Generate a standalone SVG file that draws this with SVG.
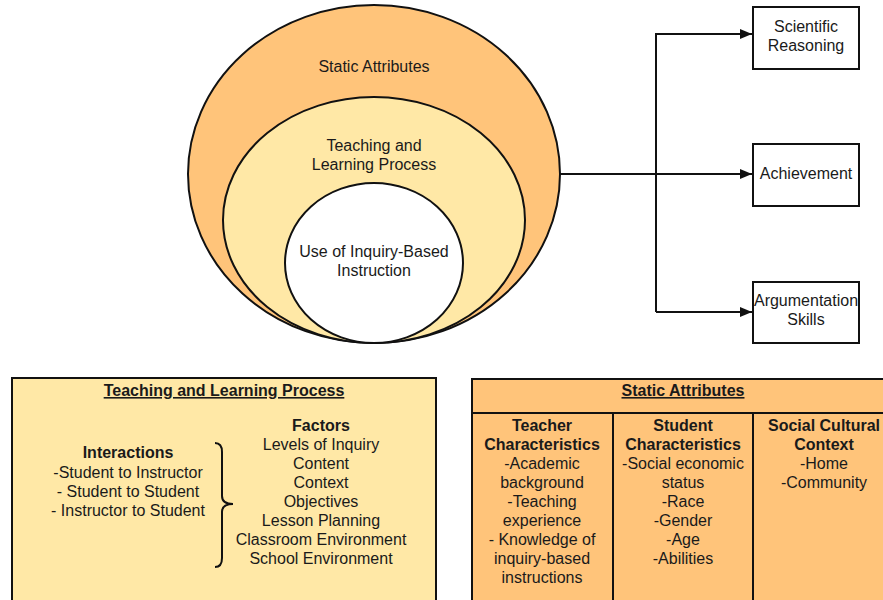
<svg xmlns="http://www.w3.org/2000/svg" width="883" height="600" viewBox="0 0 883 600">
  <style>
    text { font-family: "Liberation Sans", Arial, sans-serif; font-size: 16px; fill: #1a1a1a; text-anchor: middle; }
    .b { font-weight: bold; }
    .u { font-weight: bold; text-decoration: underline; }
    .ln { fill: none; stroke: #111; stroke-width: 2; }
    .box { fill: #ffffff; stroke: #111; stroke-width: 2; }
  </style>
  <defs>
    <marker id="arrow" viewBox="0 0 12 10" refX="12" refY="5" markerWidth="12" markerHeight="10" markerUnits="userSpaceOnUse" orient="auto">
      <path d="M0,0 L12,5 L0,10 Z" fill="#111"/>
    </marker>
  </defs>
  <rect width="883" height="600" fill="#ffffff"/>

  <!-- Nested ellipses -->
  <g id="static-attributes">
    <ellipse cx="374" cy="174" rx="186" ry="169" fill="#FFC47A" stroke="#111" stroke-width="2"/>
    <text x="374" y="72">Static Attributes</text>
  </g>
  <g id="teaching-learning">
    <ellipse cx="374" cy="220" rx="151" ry="123" fill="#FFE8A6" stroke="#111" stroke-width="2"/>
    <text x="374" y="151">Teaching and</text>
    <text x="374" y="170">Learning Process</text>
  </g>
  <g id="inquiry-instruction">
    <ellipse cx="374" cy="263" rx="89" ry="80" fill="#ffffff" stroke="#111" stroke-width="2"/>
    <text x="374" y="257">Use of Inquiry-Based</text>
    <text x="374" y="276">Instruction</text>
  </g>

  <!-- Connectors -->
  <g id="connectors">
    <path class="ln" d="M560,174 L752,174" marker-end="url(#arrow)"/>
    <path class="ln" d="M656,312 L656,34 L752,34" marker-end="url(#arrow)"/>
    <path class="ln" d="M656,312 L752,312" marker-end="url(#arrow)"/>
  </g>

  <!-- Outcome boxes -->
  <g id="scientific-reasoning">
    <rect class="box" x="753" y="7" width="106" height="62"/>
    <text x="806" y="32">Scientific</text>
    <text x="806" y="51">Reasoning</text>
  </g>
  <g id="achievement">
    <rect class="box" x="753" y="144" width="106" height="62"/>
    <text x="806" y="179">Achievement</text>
  </g>
  <g id="argumentation-skills">
    <rect class="box" x="753" y="282" width="106" height="61"/>
    <text x="806" y="306">Argumentation</text>
    <text x="806" y="325">Skills</text>
  </g>

  <!-- Teaching and Learning Process panel -->
  <g id="tlp-panel">
    <rect x="12" y="378" width="424" height="230" fill="#FFE8A6" stroke="#111" stroke-width="2"/>
    <text class="u" x="224" y="396">Teaching and Learning Process</text>
    <text class="b" x="128" y="458">Interactions</text>
    <text x="128" y="478">-Student to Instructor</text>
    <text x="128" y="497">- Student to Student</text>
    <text x="128" y="516">- Instructor to Student</text>
    <path class="ln" d="M215,443 Q222,443 222,452 L222,496 Q222,504 233,504 Q222,504 222,512 L222,558 Q222,567 215,567" stroke-width="1.8"/>
    <text class="b" x="321" y="431">Factors</text>
    <text x="321" y="450">Levels of Inquiry</text>
    <text x="321" y="469">Content</text>
    <text x="321" y="488">Context</text>
    <text x="321" y="507">Objectives</text>
    <text x="321" y="526">Lesson Planning</text>
    <text x="321" y="545">Classroom Environment</text>
    <text x="321" y="564">School Environment</text>
  </g>

  <!-- Static Attributes panel -->
  <g id="sa-panel">
    <rect x="472" y="379" width="420" height="230" fill="#FFC47A" stroke="#111" stroke-width="2"/>
    <path class="ln" d="M472,413 L883,413 M613,413 L613,600 M753,413 L753,600"/>
    <text class="u" x="683" y="396">Static Attributes</text>
    <text class="b" x="542" y="431">Teacher</text>
    <text class="b" x="542" y="450">Characteristics</text>
    <text x="542" y="469">-Academic</text>
    <text x="542" y="488">background</text>
    <text x="542" y="507">-Teaching</text>
    <text x="542" y="526">experience</text>
    <text x="542" y="545">- Knowledge of</text>
    <text x="542" y="564">inquiry-based</text>
    <text x="542" y="583">instructions</text>
    <text class="b" x="683" y="431">Student</text>
    <text class="b" x="683" y="450">Characteristics</text>
    <text x="683" y="469">-Social economic</text>
    <text x="683" y="488">status</text>
    <text x="683" y="507">-Race</text>
    <text x="683" y="526">-Gender</text>
    <text x="683" y="545">-Age</text>
    <text x="683" y="564">-Abilities</text>
    <text class="b" x="824" y="431">Social Cultural</text>
    <text class="b" x="824" y="450">Context</text>
    <text x="824" y="469">-Home</text>
    <text x="824" y="488">-Community</text>
  </g>
</svg>
